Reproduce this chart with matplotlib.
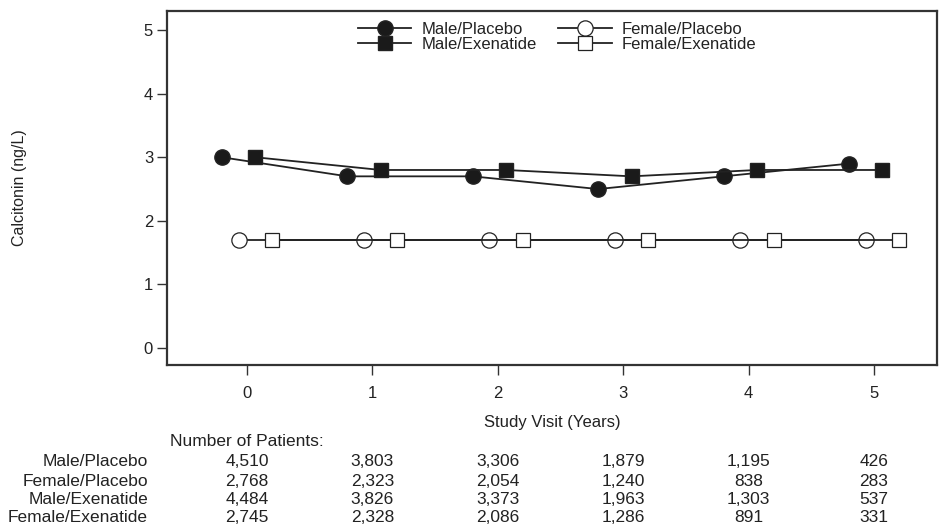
import matplotlib
matplotlib.use('Agg')
import matplotlib.pyplot as plt
from matplotlib.transforms import blended_transform_factory

plt.rcParams['font.family'] = ['Liberation Sans', 'DejaVu Sans']

# data
years = [0, 1, 2, 3, 4, 5]
groups = ['Male/Placebo', 'Female/Placebo', 'Male/Exenatide', 'Female/Exenatide']
calcitonin = {
    'Male/Placebo': [3.0, 2.7, 2.7, 2.5, 2.7, 2.9],
    'Female/Placebo': [1.7, 1.7, 1.7, 1.7, 1.7, 1.7],
    'Male/Exenatide': [3.0, 2.8, 2.8, 2.7, 2.8, 2.8],
    'Female/Exenatide': [1.7, 1.7, 1.7, 1.7, 1.7, 1.7],
}
n_patients = {
    'Male/Placebo': ['4,510', '3,803', '3,306', '1,879', '1,195', '426'],
    'Female/Placebo': ['2,768', '2,323', '2,054', '1,240', '838', '283'],
    'Male/Exenatide': ['4,484', '3,826', '3,373', '1,963', '1,303', '537'],
    'Female/Exenatide': ['2,745', '2,328', '2,086', '1,286', '891', '331'],
}

# styling per group: x offset, marker, fill
style = {
    'Male/Placebo': (-0.2, 'o', '#1a1a1a'),
    'Female/Placebo': (-0.067, 'o', 'white'),
    'Male/Exenatide': (0.067, 's', '#1a1a1a'),
    'Female/Exenatide': (0.2, 's', 'white'),
}
line_col = '#222222'

fig = plt.figure(figsize=(9.45, 5.28), dpi=100)
ax = fig.add_axes([0.1767, 0.3087, 0.8148, 0.6703])

handles = {}
for g in groups:
    off, mk, fc = style[g]
    xs = [y + off for y in years]
    ms = 11 if mk == 'o' else 10
    h, = ax.plot(xs, calcitonin[g], color=line_col, lw=1.3, marker=mk,
                 markersize=ms, markerfacecolor=fc, markeredgecolor=line_col,
                 markeredgewidth=0.9 if fc == 'white' else 1.0, zorder=3)
    handles[g] = h

ax.set_xlim(-0.638, 5.502)
ax.set_ylim(-0.266, 5.298)
ax.set_xticks(years)
ax.set_yticks([0, 1, 2, 3, 4, 5])
ax.tick_params(direction='out', length=7, width=1, color='#333333',
               labelsize=12, labelcolor='#222222')
ax.tick_params(axis='x', pad=8)
ax.tick_params(axis='y', pad=3)
for sp in ax.spines.values():
    sp.set_color('#333333')
    sp.set_linewidth(1.6)

ax.set_xlabel('Study Visit (Years)', fontsize=12, color='#222222', labelpad=10)
fig.text(0.021, 0.644, 'Calcitonin (ng/L)', rotation=90, fontsize=11.5,
         color='#222222', ha='center', va='center')

# legend fills column-wise: male rows in column 1, female rows in column 2
leg_order = ['Male/Placebo', 'Male/Exenatide', 'Female/Placebo', 'Female/Exenatide']
leg = fig.legend([handles[g] for g in leg_order], leg_order, ncol=2,
                 loc='upper left', bbox_to_anchor=(358 / 945, 1 - 22 / 528),
                 frameon=False, fontsize=12, handlelength=3.2,
                 columnspacing=1.3, handletextpad=0.6, labelspacing=0.0,
                 borderaxespad=0, borderpad=0)
for t in leg.get_texts():
    t.set_color('#222222')

# patients at risk table under the axis
trans = blended_transform_factory(ax.transData, fig.transFigure)
fs_tab = 12.5
fig.text(170 / 945, 1 - 441 / 528, 'Number of Patients:', fontsize=fs_tab,
         color='#222222', ha='left', va='center')
row_y = [462, 481, 499, 518]
for g, ry in zip(groups, row_y):
    fig.text(148 / 945, 1 - ry / 528, g, fontsize=fs_tab, color='#222222',
             ha='right', va='center')
    for yr, n in zip(years, n_patients[g]):
        ax.text(yr, 1 - ry / 528, n, transform=trans, fontsize=fs_tab,
                color='#222222', ha='center', va='center')

fig.savefig('out.png', dpi=100)
